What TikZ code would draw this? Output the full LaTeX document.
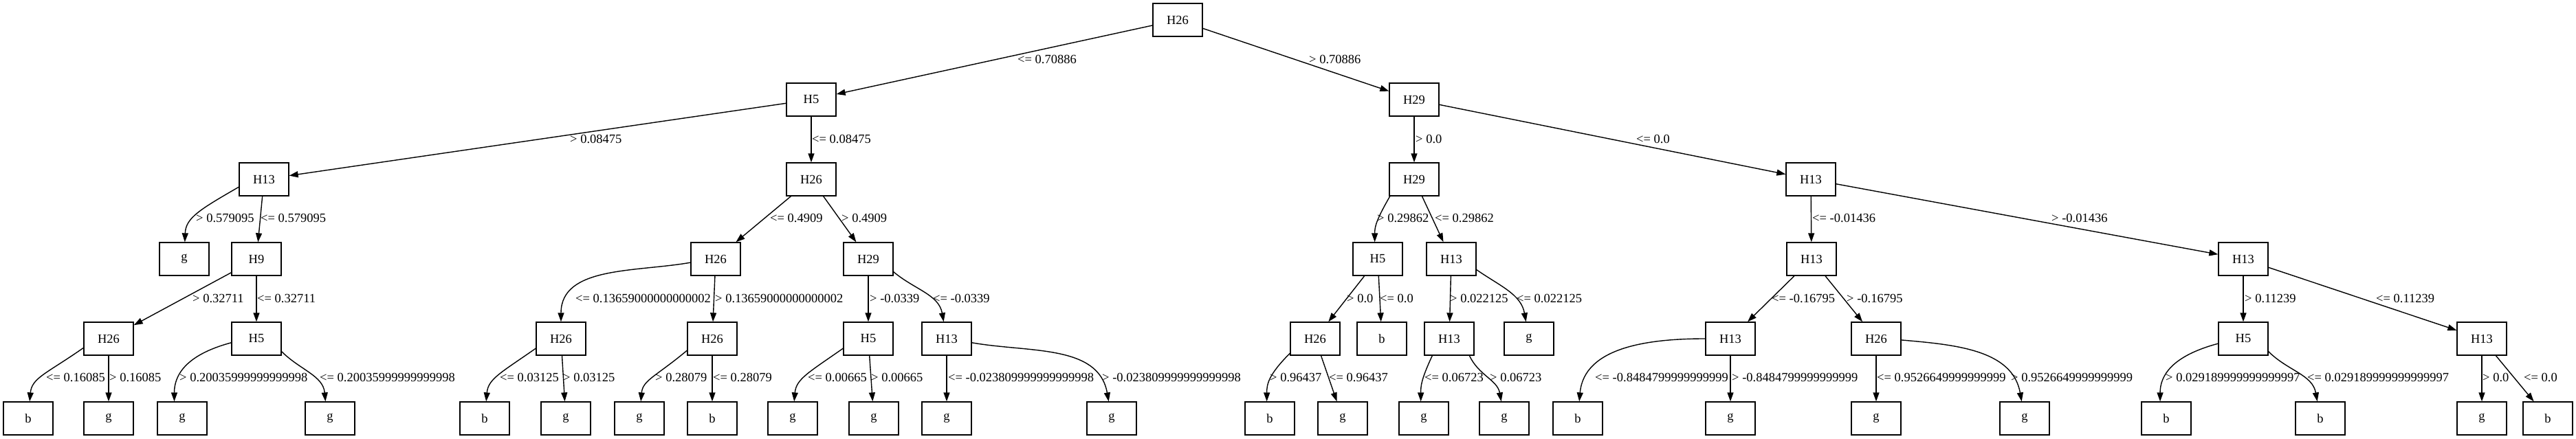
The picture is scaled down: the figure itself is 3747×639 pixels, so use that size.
\documentclass[tikz,border=0pt]{standalone}
\usepackage{fontspec}
\setmainfont{Liberation Serif}
\usetikzlibrary{arrows.meta}

\begin{document}
\begin{tikzpicture}[>={Triangle[length=13pt,width=9pt]},x=1pt,y=1pt]
\tikzset{every node/.style={font=\fontsize{18.5}{22}\selectfont},
  box/.style={draw,line width=1.3pt,minimum width=72pt,minimum height=48pt,inner sep=0pt},
  lbl/.style={anchor=base west,inner sep=0pt},
  edge/.style={->,line width=1.4pt},
  sweep/.style={out looseness=1.5,in looseness=0.8}}
\useasboundingbox (0,0) rectangle (3747,639);
% tree nodes, one row per level
\node[box] (h0) at (1713,610) {H26};
\foreach \n/\x/\t in {hL/1180/H5,hR/2057/H29}
  {\node[box] (\n) at (\x,494) {\t};}
\foreach \n/\x/\t in {hLL/384/H13,hLR/1180/H26,hRL/2057/H29,hRR/2634/H13}
  {\node[box] (\n) at (\x,378) {\t};}
\foreach \n/\x/\t in {hLLL/268/g,hLLR/373/H9,hLRL/1041/H26,hLRR/1263/H29,
  hRLL/2004/H5,hRLR/2111/H13,hRRL/2635/H13,hRRR/3263/H13}
  {\node[box] (\n) at (\x,262) {\t};}
\foreach \n/\x/\t in {hLLRL/158/H26,hLLRR/373/H5,hLRLL/816/H26,hLRLR/1036/H26,
  hLRRL/1263/H5,hLRRR/1377/H13,hRLLL/1913/H26,hRLLR/2010/b,hRLRL/2108/H13,
  hRLRR/2224/g,hRRLL/2517/H13,hRRLR/2729/H26,hRRRL/3263/H5,hRRRR/3610/H13}
  {\node[box] (\n) at (\x,146) {\t};}
\foreach \n/\x/\t in {hLLRLL/41/b,hLLRLR/158/g,hLLRRL/265/g,hLLRRR/480/g,
  hLRLLL/705/b,hLRLLR/823/g,hLRLRL/930/g,hLRLRR/1036/b,hLRRLL/1153/g,
  hLRRLR/1271/g,hLRRRL/1377/g,hLRRRR/1617/g,hRLLLL/1847/b,hRLLLR/1953/g,
  hRLRLL/2071/g,hRLRLR/2188/g,hRRLLL/2295/b,hRRLLR/2517/g,hRRLRL/2729/g,
  hRRLRR/2945/g,hRRRLL/3151/b,hRRRLR/3375/b,hRRRRL/3610/g,hRRRRR/3706/b}
  {\node[box] (\n) at (\x,30) {\t};}
% straight edges
\foreach \a/\b in {h0/hL,h0/hR,hL/hLL,hL/hLR,hR/hRL,hR/hRR,
  hLL/hLLR,hLR/hLRL,hLR/hLRR,hRL/hRLR,hRR/hRRL,hRR/hRRR,
  hLLR/hLLRL,hLLR/hLLRR,hLRL/hLRLR,hLRR/hLRRL,hRLL/hRLLL,hRLL/hRLLR,
  hRLR/hRLRL,hRRL/hRRLL,hRRL/hRRLR,hRRR/hRRRL,hRRR/hRRRR,
  hLLRL/hLLRLR,hLRLL/hLRLLR,hLRLR/hLRLRR,hLRRL/hLRRLR,hLRRR/hLRRRL,
  hRLLL/hRLLLR,hRRLL/hRRLLR,hRRLR/hRRLRL,hRRRR/hRRRRL,hRRRR/hRRRRR}
  \draw[edge] (\a) -- (\b);
% bent edges
\foreach \p/\u/\v/\q in {hLRL.188/190/90/hLRLL,hLRR.-27/-40/100/hLRRR,
  hRLR.-23/-35/100/hRLRR,hLLRR.-27/-45/95/hLLRRR.105,hLRRR.-9/-10/100/hLRRRR,
  hRLRL.-40/-65/100/hRLRLR,hRRLL.180/180/85/hRRLLL,hRRLR.-3/-5/100/hRRLRR,
  hRRRL.-27/-45/100/hRRRLR}
  \draw[edge] (\p) to[out=\u,in=\v] (\q);
\foreach \p/\u/\v/\q in {hLL.197/210/88/hLLL,hRL.215/240/90/hRLL.100,
  hLLRL.200/215/85/hLLRLL,hLLRR.189/195/90/hLLRRL.115,hLRLL.201/215/85/hLRLLL,
  hLRLR.205/220/85/hLRLRL,hLRRL.201/215/85/hLRRLL,hRLLL.210/225/90/hRLLLL.100,
  hRLRL.225/245/90/hRLRLL.100,hRRRL.191/195/90/hRRRLL.110}
  \draw[edge,sweep] (\p) to[out=\u,in=\v] (\q);
% edge labels
\foreach \x/\y/\t [count=\k] in {1480/546/<= 0.70886,1904/546/> 0.70886,
  829/430/> 0.08475,1181/430/<= 0.08475,2059/430/> 0.0,2380/430/<= 0.0,
  285/315/> 0.579095,379/315/<= 0.579095,1120/315/<= 0.4909,1224/315/> 0.4909,
  2003/315/> 0.29862,2087/315/<= 0.29862,2636/315/<= -0.01436,2984/315/> -0.01436,
  280/198/> 0.32711,374/198/<= 0.32711,837/198/<= 0.13659000000000002,
  1040/198/> 0.13659000000000002,1265/198/> -0.0339,1357/198/<= -0.0339,
  1959/198/> 0.0,2007/198/<= 0.0,2109/198/> 0.022125,2206/198/<= 0.022125,
  2577/198/<= -0.16795,2686/198/> -0.16795,3265/198/> 0.11239,3456/198/<= 0.11239,
  67/83/<= 0.16085,159/83/> 0.16085,261/83/> 0.20035999999999998,
  465/83/<= 0.20035999999999998,727/83/<= 0.03125,819/83/> 0.03125,
  953/83/> 0.28079,1037/83/<= 0.28079,1175/83/<= 0.00665,1267/83/> 0.00665,
  1379/83/<= -0.023809999999999998,1603/83/> -0.023809999999999998,
  1847/83/> 0.96437,1933/83/<= 0.96437,2072/83/<= 0.06723,2167/83/> 0.06723,
  2320/83/<= -0.8484799999999999,2519/83/> -0.8484799999999999,
  2730/83/<= 0.9526649999999999,2925/83/> 0.9526649999999999,
  3150/83/> 0.029189999999999997,3356/83/<= 0.029189999999999997,
  3611/83/> 0.0,3671/83/<= 0.0}
  \node[lbl] (e\k) at (\x,\y) {\t};
\end{tikzpicture}
\end{document}
